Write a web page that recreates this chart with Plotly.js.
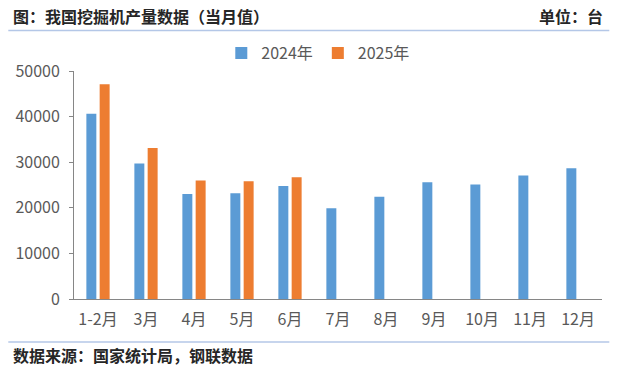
<!DOCTYPE html>
<html>
<head>
<meta charset="utf-8">
<script src="https://cdn.plot.ly/plotly-3.0.1.min.js"></script>
<style>
html,body{margin:0;padding:0;background:#fff;}
#chart{width:621px;height:369px;}
</style>
</head>
<body>
<div id="chart"></div>
<script>
const categories = ['1-2月','3月','4月','5月','6月','7月','8月','9月','10月','11月','12月'];
const values2024 = [40600, 29700, 23000, 23200, 24800, 19900, 22400, 25600, 25100, 27100, 28700];
const values2025 = [47100, 33100, 26000, 25800, 26700, null, null, null, null, null, null];
const seriesNames = ['2024年', '2025年'];
const yTicks = [0, 10000, 20000, 30000, 40000, 50000];

const CJK = '"Noto Sans CJK SC", "Noto Sans", sans-serif';

const traces = [
  {type:'bar', name:seriesNames[0], x:categories, y:values2024,
   marker:{color:'#5B9BD5', line:{width:0}}},
  {type:'bar', name:seriesNames[1], x:categories, y:values2025,
   marker:{color:'#ED7D31', line:{width:0}}}
];

// plot area: x 73.7..601.7, y 71..299 (px)
const L = 73.7, R = 601.7, T = 71, B = 299;
const W = R - L, H = B - T;
const px = v => (v - L) / W;
const py = v => (B - v) / H;

const layout = {
  width:621, height:369,
  margin:{l:L, r:621-R, t:T, b:369-B, pad:0},
  paper_bgcolor:'#ffffff', plot_bgcolor:'#ffffff',
  barmode:'group', bargap:0.446, bargroupgap:0.25,
  showlegend:true,
  legend:{orientation:'h', x:px(318), xanchor:'center', y:py(53), yanchor:'middle',
          font:{family:CJK, size:16, color:'#595959'}, itemwidth:30, bgcolor:'rgba(0,0,0,0)'},
  xaxis:{type:'category', showline:true, linecolor:'#868686', linewidth:1,
         ticks:'', showgrid:false, zeroline:false, ticklabelstandoff:6,
         tickfont:{family:CJK, size:16, color:'#595959'}, fixedrange:true},
  yaxis:{range:[0,50000], tickvals:yTicks, tickformat:'d', showline:true, linecolor:'#868686', linewidth:1,
         ticks:'outside', ticklen:4, tickcolor:'#868686', showgrid:false, zeroline:false,
         tickfont:{family:CJK, size:16, color:'#595959'}, ticklabelstandoff:6, fixedrange:true},
  shapes:[
    {type:'line', xref:'paper', yref:'paper', x0:px(8), x1:px(609), y0:py(30.5), y1:py(30.5),
     line:{color:'#B4C7E7', width:1.5}},
    {type:'line', xref:'paper', yref:'paper', x0:px(8), x1:px(609), y0:py(342), y1:py(342),
     line:{color:'#B4C7E7', width:1.5}}
  ],
  annotations:[
    {xref:'paper', yref:'paper', x:px(11), y:py(16), xanchor:'left', yanchor:'middle', showarrow:false,
     text:'图：我国挖掘机产量数据（当月值）', font:{family:CJK, size:16, color:'#262626', weight:'bold'}},
    {xref:'paper', yref:'paper', x:px(605), y:py(16), xanchor:'right', yanchor:'middle', showarrow:false,
     text:'单位：台', font:{family:CJK, size:16, color:'#262626', weight:'bold'}},
    {xref:'paper', yref:'paper', x:px(11), y:py(355), xanchor:'left', yanchor:'middle', showarrow:false,
     text:'数据来源：国家统计局，钢联数据', font:{family:CJK, size:16, color:'#262626', weight:'bold'}}
  ]
};

Plotly.newPlot('chart', traces, layout, {staticPlot:true, displayModeBar:false});
</script>
</body>
</html>
